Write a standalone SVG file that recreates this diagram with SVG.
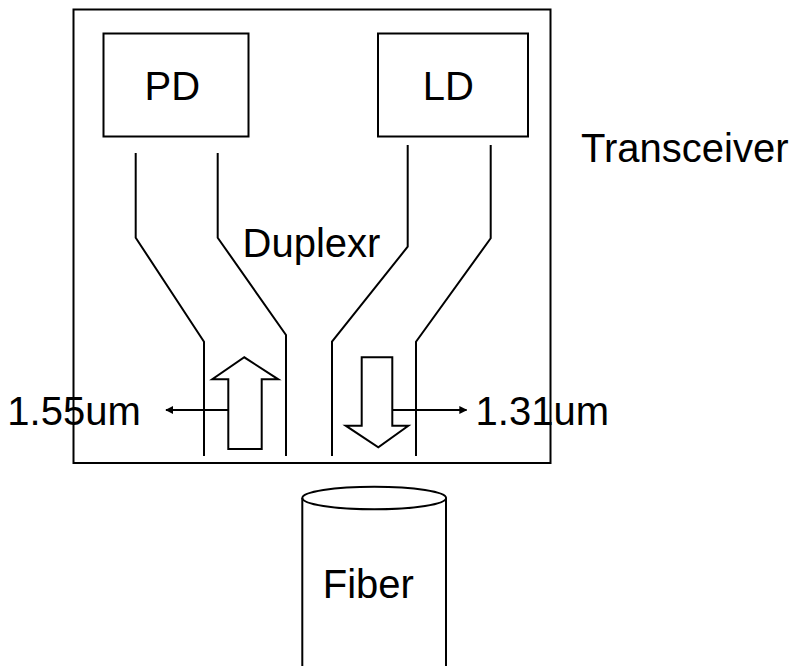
<svg xmlns="http://www.w3.org/2000/svg" width="796" height="666" viewBox="0 0 796 666">
<defs>
<style>
.s{fill:none;stroke:#000;stroke-width:2}
.w{fill:#fff;stroke:#000;stroke-width:2}
text{font-family:"Liberation Sans",Arial,sans-serif;font-size:40px;fill:#000}
</style>
<marker id="ah" viewBox="0 0 10 10" refX="9" refY="5" markerWidth="4" markerHeight="4" orient="auto" markerUnits="strokeWidth">
<path d="M0,0 L10,5 L0,10 Z" fill="#000"/>
</marker>
</defs>
<rect width="796" height="666" fill="#fff"/>
<g id="transceiver">
<rect class="s" x="73.5" y="9.5" width="477" height="453.5"/>
<text x="581" y="161.7">Transceiver</text>
</g>
<g id="pd">
<rect class="s" x="103.5" y="33.5" width="145" height="103"/>
<text x="144.5" y="100">PD</text>
</g>
<g id="ld">
<rect class="s" x="378" y="33.5" width="150" height="103"/>
<text x="422.8" y="100">LD</text>
</g>
<g id="duplexer">
<polyline class="s" points="135.7,153 135.7,237.7 204,341.7 204,456"/>
<polyline class="s" points="217.7,153 217.7,237.7 286,335 286,456"/>
<polyline class="s" points="407.7,145 407.7,246.7 332,341.7 332,456"/>
<polyline class="s" points="490.7,145 490.7,238.3 416,341.7 416,456"/>
<text x="242.5" y="256.7">Duplexr</text>
</g>
<g id="fiber">
<path class="s" d="M302.3,498 L302.3,666 M446,498 L446,666"/>
<ellipse class="s" cx="374.2" cy="498" rx="71.9" ry="11.3"/>
<text x="322.8" y="598.3">Fiber</text>
</g>
<g id="connectors">
<polygon class="w" points="228.3,449 228.3,379.3 212.3,379.3 244.3,357.3 278.3,379.3 261.7,379.3 261.7,449"/>
<polygon class="w" points="361.7,357.3 392.3,357.3 392.3,425.7 408.3,425.7 378.3,447.3 345.7,425.7 361.7,425.7"/>
<line class="s" x1="228.3" y1="410" x2="166" y2="410" stroke-width="2.5" marker-end="url(#ah)"/>
<line class="s" x1="392.3" y1="410" x2="466.5" y2="410" stroke-width="2.5" marker-end="url(#ah)"/>
<text x="7.3" y="425">1.55um</text>
<text x="475.6" y="425">1.31um</text>
</g>
</svg>
